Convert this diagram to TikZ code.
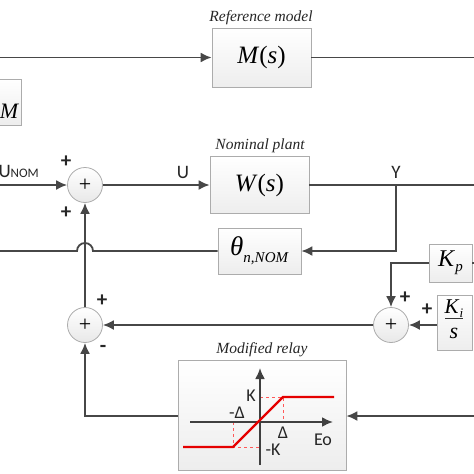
\documentclass[tikz,border=0pt]{standalone}
\usepackage{fontspec}
\setmainfont{Liberation Serif}
\newfontfamily\labfont{Carlito}
\usetikzlibrary{arrows.meta}

\tikzset{
  blk/.style={draw=gray!65, line width=0.8pt, top color=white, bottom color=gray!14, inner sep=0pt},
  sumc/.style={draw=gray!65, line width=0.8pt, circle, top color=white, bottom color=gray!18, minimum size=35pt, inner sep=0pt, font=\fontsize{22}{22}\selectfont},
  ln/.style={draw=black!72, line width=1.8pt},
  arr/.style={ln, -{Latex[length=11pt,width=10pt]}},
  capt/.style={font=\fontsize{15.5}{15.5}\selectfont\itshape, text=black!85},
  sig/.style={font=\labfont\fontsize{19}{19}\selectfont, text=black!85},
  sgn/.style={font=\labfont\bfseries\fontsize{21}{21}\selectfont, text=black!85},
  rlab/.style={font=\labfont\fontsize{18}{18}\selectfont, text=black!85},
  big/.style={font=\fontsize{25}{25}\selectfont},
}

\begin{document}
\begin{tikzpicture}[x=1pt,y=-1pt]
\useasboundingbox (0,0) rectangle (474,474);

% reference model
\node[blk, big, minimum width=99pt, minimum height=59pt] (mref) at (261.5,57.5) {\textit{M}(\textit{s})};
\node[capt] (lref) at (261,18) {Reference model};
\node[blk, minimum width=70pt, minimum height=46pt] (mleft) at (-14,102) {};
\node[font=\fontsize{22}{22}\selectfont\itshape] (lm) at (9,111) {M};
\coordinate (rin) at (0,57.5);
\coordinate (rout) at (474,57.5);
\draw[arr] (rin) -- (mref);
\draw[ln] (mref) -- (rout);

% nominal plant
\node[sumc] (s1) at (85,185) {+};
\node[blk, big, minimum width=99pt, minimum height=57pt] (wpl) at (259.5,185) {\textit{W}(\textit{s})};
\node[capt] (lpl) at (260,146) {Nominal plant};
\node[blk, minimum width=83pt, minimum height=46pt] (th) at (259.5,251)
  {{\fontsize{27}{27}\selectfont\textit{θ}}\raisebox{-7pt}{\fontsize{15}{15}\selectfont\textit{n,NOM}}};
\coordinate (uin) at (0,185);
\coordinate (yout) at (474,185);
\coordinate (yb) at (396,185);
\coordinate (yd) at (396,251);
\coordinate (hopr) at (93,251);
\coordinate (thout) at (0,251);
\node[sig, anchor=west] (lunom) at (-5,171) {U{\fontsize{13}{13}\selectfont NOM}};
\node[sig] (lu) at (183,172) {U};
\node[sig] (ly) at (396,172) {Y};
\node[sgn] (p1) at (66,162) {+};
\node[sgn] (p2) at (66,213) {+};
\draw[arr] (uin) -- (s1);
\draw[arr] (s1) -- (wpl);
\draw[ln] (wpl) -- (yout);
\draw[arr] (yb) -- (yd) -- (th);
\draw[ln] (th) -- (hopr) arc[start angle=0, end angle=180, radius=8pt] -- (thout);

% correction loop
\node[sumc] (s2) at (85,325) {+};
\node[sumc] (s3) at (391,325) {+};
\node[blk, minimum width=43pt, minimum height=38pt] (kp) at (450.5,263)
  {{\fontsize{24}{24}\selectfont\textit{K}}\raisebox{-5pt}{\fontsize{15}{15}\selectfont\textit{p}}};
\node[blk, minimum width=35pt, minimum height=55pt] (ki) at (454.5,323) {};
\node (kin) at (454,309) {{\fontsize{21}{21}\selectfont\textit{K}}\raisebox{-4pt}{\fontsize{13}{13}\selectfont\textit{i}}};
\node[font=\fontsize{22}{22}\selectfont\itshape] (kis) at (454,333) {s};
\draw[line width=0.9pt, black!80] (445,318) -- (463,318);
\coordinate (kpin) at (474,263);
\coordinate (kpd) at (391,263);
\node[sgn] (p3) at (102,301) {+};
\node[sgn] (m1) at (103,349) {-};
\node[sgn] (p4) at (405,298) {+};
\node[sgn] (p5) at (427,310) {+};
\draw[ln] (kp) -- (kpin);
\draw[arr] (kp) -- (kpd) -- (s3);
\draw[arr] (ki.west |- s3) -- (s3);
\draw[arr] (s3) -- (s2);
\draw[arr] (s2) -- (s1);

% modified relay
\node[blk, minimum width=168pt, minimum height=110pt] (rel) at (262,415) {};
\node[capt] (lrel) at (262,350) {Modified relay};
\coordinate (ein) at (474,416);
\coordinate (rl) at (85,416);
\draw[arr] (ein) -- (rel.east |- ein);
\draw[arr] (rel.west |- rl) -- (rl) -- (s2);
\draw[red!65, dashed, line width=0.8pt] (233,422) -- (233,447) -- (260,447);
\draw[red!65, dashed, line width=0.8pt] (260,397) -- (283,397) -- (283,422);
\draw[black!75, line width=2pt, -{Latex[length=11pt,width=10pt]}] (190,422) -- (333,422);
\draw[black!75, line width=2pt, -{Latex[length=11pt,width=10pt]}] (260,465) -- (260,368);
\draw[red!90!black, line width=2.4pt] (183,447) -- (233,447) -- (283,397) -- (334,397);
\node[rlab] (lk) at (251,396) {K};
\node[rlab] (lmd) at (237,413) {-Δ};
\node[rlab] (ld) at (283,433) {Δ};
\node[rlab] (leo) at (323,440) {Eo};
\node[rlab] (lmk) at (273,450) {-K};
\end{tikzpicture}
\end{document}
